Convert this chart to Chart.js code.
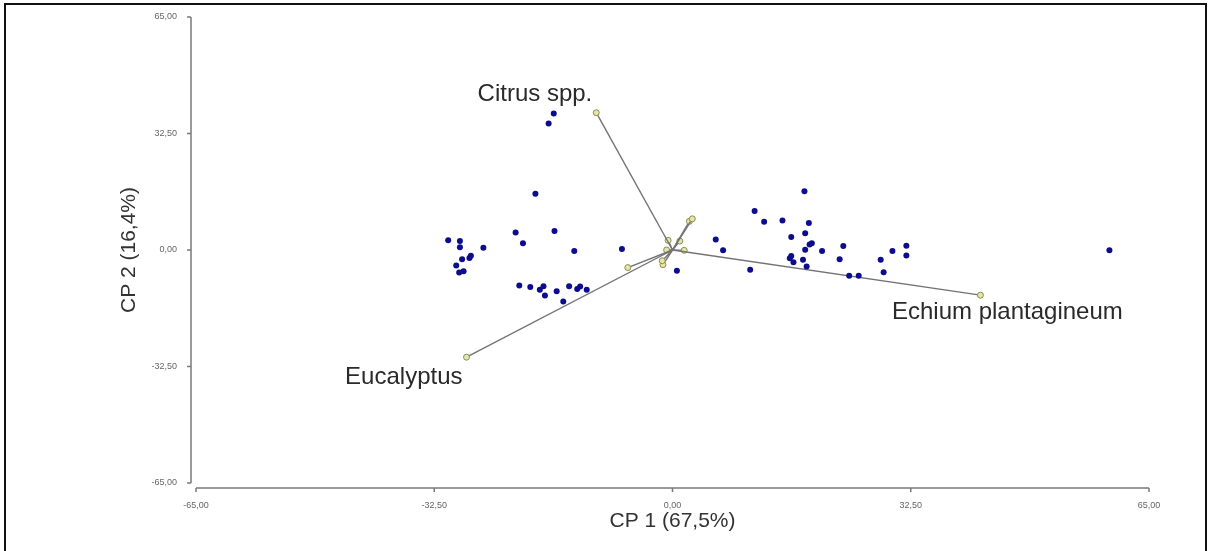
<!DOCTYPE html>
<html>
<head>
<meta charset="utf-8">
<script src="https://cdn.jsdelivr.net/npm/chart.js@4"></script>
<style>
  body { margin: 0; background: #fff; }
  #wrap { position: relative; width: 1209px; height: 551px; overflow: hidden; }
  #pca { position: absolute; left: 0; top: 0; }
  .frame { position: absolute; left: 4px; top: 3px; right: 2px; bottom: -10px;
           border: 2px solid #111; border-bottom: none; pointer-events: none; }
</style>
</head>
<body>
<div id="wrap">
  <canvas id="pca" width="1209" height="551"></canvas>
  <div class="frame"></div>
</div>
<script>
// PCA scores (samples)
const scoreX = [-30.6, -29.0, -29.0, -25.8, -28.7, -29.5, -29.1, -28.5, -27.7, -27.5,
  -18.7, -21.4, -16.1, -20.4, -13.4, -6.9, -20.9, -19.4, -18.1, -17.6, -17.4, -15.8,
  -14.1, -13.0, -12.6, -11.7, -14.9, -16.2, -16.9,
  0.6, 5.9, 6.9, 18.0, 11.2, 12.5, 15.0, 18.6, 18.1, 16.2, 19.0, 18.7, 18.1, 20.4,
  23.3, 16.2, 16.0, 16.5, 17.8, 18.3, 22.8, 10.6, 24.1, 25.4, 28.4, 28.8, 30.0,
  31.9, 31.9, 59.6];
const scoreY = [2.7, 2.5, 0.8, 0.6, -2.6, -4.3, -6.3, -5.9, -2.2, -1.6,
  15.7, 4.9, 5.3, 1.9, -0.3, 0.3, -9.9, -10.3, -11.1, -10.1, -12.7, -11.5,
  -10.1, -10.9, -10.2, -11.1, -14.4, 38.1, 35.3,
  -5.8, 2.9, -0.1, 16.4, 10.9, 7.9, 8.2, 7.5, 4.7, 3.6, 1.9, 1.5, 0.1, -0.3,
  1.1, -1.7, -2.3, -3.4, -2.7, -4.6, -2.6, -5.5, -7.2, -7.2, -2.7, -6.2, -0.3,
  1.2, -1.5, -0.1];

// loadings (pollen types)
const loadingNames = ['Citrus spp.', 'Eucalyptus', 'Echium plantagineum', '', '', '', '', '', '', '', '', ''];
const loadingX = [-10.4, -28.1, 42.0, 2.7, 2.3, 1.0, 1.6, -6.1, -1.4, -1.3, -0.6, -0.8];
const loadingY = [38.3, -29.9, -12.6, 8.7, 8.0, 2.5, -0.1, -4.9, -3.0, -4.1, 2.7, 0.0];

// axes
const tickValues = [-65, -32.5, 0, 32.5, 65];
const xTitle = 'CP 1 (67,5%)';
const yTitle = 'CP 2 (16,4%)';

const fmt = v => v.toFixed(2).replace('.', ',');
// label offsets relative to the arrow tip (px): [dx, dy, align]
const labelPos = [[-4, -18, 'right'], [-4, 20, 'right'], [27, 17, 'center']];

const datasets = [{
  label: 'scores',
  data: scoreX.map((x, i) => ({x: x, y: scoreY[i]})),
  backgroundColor: '#0c0c8e',
  borderColor: '#0c0c8e',
  borderWidth: 0,
  pointRadius: 3,
  pointStyle: 'circle'
}];
loadingX.forEach((x, i) => {
  datasets.push({
    type: 'line',
    label: loadingNames[i],
    data: [{x: 0, y: 0}, {x: x, y: loadingY[i]}],
    showLine: true,
    borderColor: '#737373',
    borderWidth: 1.4,
    pointRadius: [0, 3],
    pointBackgroundColor: '#e4e6a6',
    pointBorderColor: '#8c8c5a',
    pointBorderWidth: 1
  });
});

const axisPlugin = {
  id: 'axisPlugin',
  afterDraw(chart) {
    const ctx = chart.ctx, xs = chart.scales.x, ys = chart.scales.y, a = chart.chartArea;
    ctx.save();
    ctx.strokeStyle = '#7a7a7a';
    ctx.lineWidth = 1.5;
    // y axis, set slightly left of the plot
    const ax = a.left - 5;
    ctx.beginPath();
    ctx.moveTo(ax, ys.getPixelForValue(65));
    ctx.lineTo(ax, ys.getPixelForValue(-65));
    tickValues.forEach(v => {
      const p = ys.getPixelForValue(v);
      ctx.moveTo(ax, p); ctx.lineTo(ax - 4, p);
    });
    ctx.stroke();
    // x axis, slightly below the plot
    const ay = a.bottom + 5;
    ctx.beginPath();
    ctx.moveTo(xs.getPixelForValue(-65), ay);
    ctx.lineTo(xs.getPixelForValue(65), ay);
    tickValues.forEach(v => {
      const p = xs.getPixelForValue(v);
      ctx.moveTo(p, ay); ctx.lineTo(p, ay + 4);
    });
    ctx.stroke();

    // axis titles
    ctx.fillStyle = '#333';
    ctx.font = '21px "Liberation Sans", Arial, sans-serif';
    ctx.textAlign = 'center';
    ctx.textBaseline = 'middle';
    ctx.fillText(xTitle, (a.left + a.right) / 2, a.bottom + 38);
    ctx.save();
    ctx.translate(a.left - 67, (a.top + a.bottom) / 2);
    ctx.rotate(-Math.PI / 2);
    ctx.fillText(yTitle, 0, 0);
    ctx.restore();

    // loading labels
    ctx.font = '24px "Liberation Sans", Arial, sans-serif';
    ctx.fillStyle = '#2a2a2a';
    loadingNames.forEach((name, i) => {
      if (!name) return;
      const px = xs.getPixelForValue(loadingX[i]);
      const py = ys.getPixelForValue(loadingY[i]);
      const o = labelPos[i];
      ctx.textAlign = o[2];
      ctx.fillText(name, px + o[0], py + o[1]);
    });
    ctx.restore();
  }
};

const tickFont = {family: '"Liberation Sans Narrow", "Liberation Sans", Arial, sans-serif', size: 9};

new Chart(document.getElementById('pca'), {
  type: 'scatter',
  data: {datasets: datasets},
  options: {
    responsive: false,
    animation: false,
    layout: {padding: {left: 0, top: 17, right: 60, bottom: 0}},
    plugins: {legend: {display: false}, tooltip: {enabled: false}},
    scales: {
      x: {
        type: 'linear', min: -65, max: 65,
        afterFit: s => { s.height = 68; },
        afterBuildTicks: s => { s.ticks = tickValues.map(v => ({value: v})); },
        grid: {display: false},
        border: {display: false},
        ticks: {color: '#666', font: tickFont, padding: 9, maxRotation: 0, callback: v => fmt(v)}
      },
      y: {
        type: 'linear', min: -65, max: 65,
        afterFit: s => { s.width = 196; },
        afterBuildTicks: s => { s.ticks = tickValues.map(v => ({value: v})); },
        grid: {display: false},
        border: {display: false},
        ticks: {color: '#666', font: tickFont, padding: 11, callback: v => fmt(v)}
      }
    }
  },
  plugins: [axisPlugin]
});
</script>
</body>
</html>
